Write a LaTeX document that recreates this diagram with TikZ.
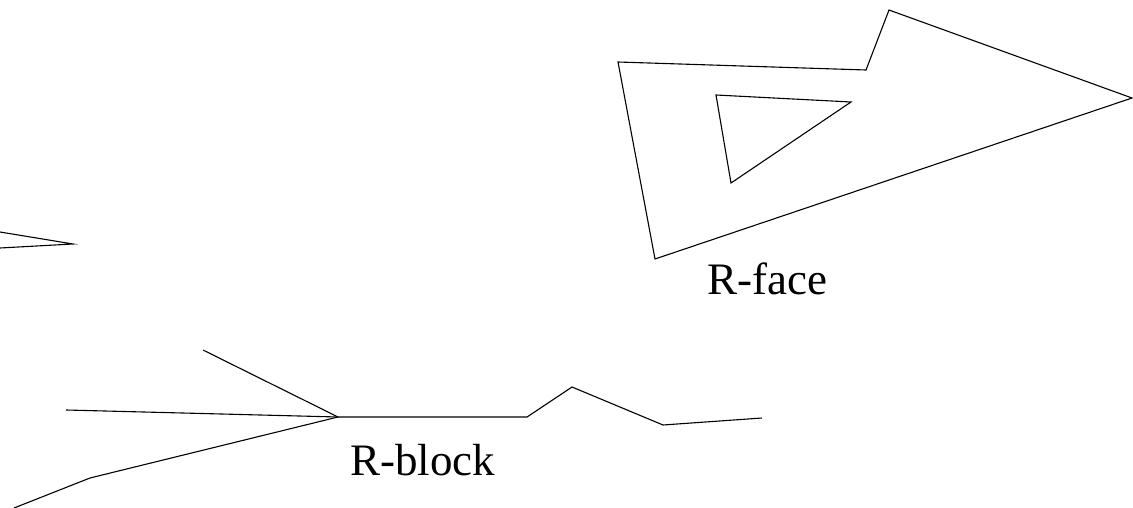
\documentclass[tikz,border=0pt]{standalone}
\usepackage{fontspec}
\setmainfont{Liberation Serif}
\tikzset{
  edge/.style={draw=black, line width=1.1pt, line join=miter},
  lbl/.style={font=\fontsize{45}{50}\selectfont, inner sep=0pt, anchor=base}
}
\begin{document}
\begin{tikzpicture}[x=1pt,y=-1pt]
\useasboundingbox (0,0) rectangle (1133,508);
% R-face
\coordinate (f1) at (618,62);
\coordinate (f2) at (866,70);
\coordinate (f3) at (889,10);
\coordinate (f4) at (1132,98);
\coordinate (f5) at (655,259);
\draw[edge] (f1) -- (f2) -- (f3) -- (f4) -- (f5) -- cycle;
\coordinate (t1) at (716,95);
\coordinate (t2) at (851,102);
\coordinate (t3) at (731,183);
\draw[edge] (t1) -- (t2) -- (t3) -- cycle;
\node[lbl] (rface) at (767.5,294) {R-face};
% left stub
\coordinate (s1) at (0,232);
\coordinate (s2) at (73,244);
\coordinate (s3) at (0,248);
\draw[edge] (s1) -- (s2) -- (s3);
% R-block
\coordinate (h) at (338,417);
\coordinate (b1) at (203,350);
\coordinate (b2) at (66,410);
\coordinate (b3) at (90,478);
\coordinate (b4) at (14,508);
\coordinate (c1) at (527,417);
\coordinate (c2) at (572,387);
\coordinate (c3) at (663,425);
\coordinate (c4) at (762,418);
\draw[edge] (b1) -- (h);
\draw[edge] (b2) -- (h);
\draw[edge] (h) -- (b3) -- (b4);
\draw[edge] (h) -- (c1) -- (c2) -- (c3) -- (c4);
\node[lbl] (rblock) at (422.5,475) {R-block};
\end{tikzpicture}
\end{document}
